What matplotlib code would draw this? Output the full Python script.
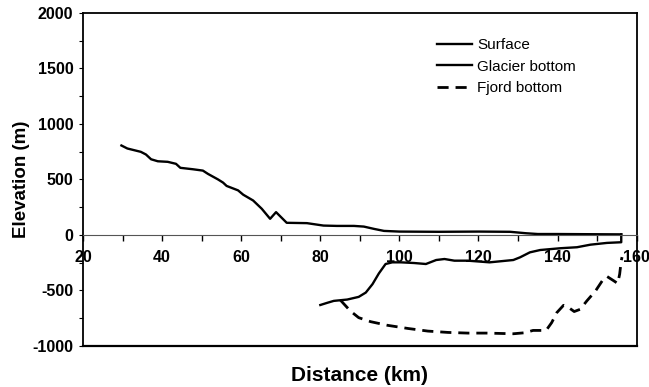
import matplotlib
matplotlib.use('Agg')
import matplotlib.pyplot as plt
from matplotlib.ticker import MultipleLocator

plt.rcParams['font.family'] = ['Liberation Sans', 'DejaVu Sans']
plt.rcParams['axes.unicode_minus'] = False

# glacier surface (km, m)
surf_x = [29.7, 31.2, 34.6, 35.9, 37.2, 38.9, 41.4, 43.5, 44.6, 47.8, 50.3, 51.6,
          54.1, 55.4, 56.3, 59.2, 60.5, 63.0, 65.2, 67.3, 68.8, 71.5, 76.6, 80.8,
          84.2, 88.5, 91.0, 93.6, 96.1, 100, 110, 120, 128, 132, 135, 140, 150, 156.1]
surf_y = [805, 778, 748, 724, 681, 663, 658, 640, 604, 591, 579, 549,
          500, 471, 441, 401, 362, 310, 235, 145, 205, 109, 106, 84,
          81, 81, 75, 54, 36, 30, 28, 30, 28, 15, 8, 8, 6, 5]

# glacier bottom, closed by the calving front at the end
bed_x = [80.0, 81.7, 83.4, 85.1, 86.8, 89.7, 91.5, 93.2, 94.8, 96.5, 98.2, 100.4,
         103.7, 106.7, 109.3, 111.4, 113.9, 117.3, 122.8, 128.8, 130.5, 133.0,
         135.6, 140.7, 144.9, 148.3, 152.5, 156.1, 156.1]
bed_y = [-631, -612, -594, -588, -582, -558, -519, -443, -347, -262, -247, -247,
         -253, -262, -226, -217, -232, -232, -247, -226, -202, -157,
         -136, -120, -111, -88, -72, -66, 5]

# fjord bottom
fjord_x = [85.1, 87.6, 89.7, 92.7, 97.0, 102.1, 107.2, 112.3, 117.3, 122.0, 128.8,
           131.7, 133.8, 137.1, 138.5, 139.8, 141.5, 142.8, 144.2, 145.7, 147.4,
           149.6, 151.3, 152.5, 154.2, 155.2, 155.7, 156.1, 156.3]
fjord_y = [-588, -685, -745, -781, -814, -842, -866, -878, -884, -884, -890,
           -881, -860, -860, -790, -700, -634, -654, -690, -670, -594,
           -504, -413, -374, -413, -437, -353, -232, -200]

fig = plt.figure(figsize=(6.49, 3.87), dpi=100)
ax = fig.add_axes([0.128, 0.106, 0.853, 0.861])

ax.plot(surf_x, surf_y, color='black', lw=1.7, label='Surface')
ax.plot(bed_x, bed_y, color='black', lw=1.7, label='Glacier bottom')
ax.plot(fjord_x, fjord_y, color='black', lw=2.0, ls=(0, (4, 2.5)), label='Fjord bottom')

ax.set_xlim(20, 160)
ax.set_ylim(-1000, 2000)

# x axis drawn at y = 0, box closed at the bottom with a separate line
ax.spines['bottom'].set_position(('data', 0))
ax.spines['bottom'].set_linewidth(0.8)
ax.spines['bottom'].set_color('#555555')
for s in ['left', 'top', 'right']:
    ax.spines[s].set_linewidth(1.3)
ax.plot([0, 1], [0, 0], transform=ax.transAxes, color='black', lw=1.6, clip_on=False)

ax.xaxis.set_major_locator(MultipleLocator(20))
ax.xaxis.set_minor_locator(MultipleLocator(10))
ax.yaxis.set_major_locator(MultipleLocator(500))
ax.yaxis.set_minor_locator(MultipleLocator(250))
ax.tick_params(axis='x', which='both', direction='out', length=4, width=1, pad=7,
               labelsize=11.5)
ax.tick_params(axis='y', which='both', direction='out', length=3, width=0.8, pad=4,
               labelsize=11.5)
for lab in ax.get_xticklabels() + ax.get_yticklabels():
    lab.set_fontweight('bold')

ax.set_xlabel('Distance (km)', fontsize=15, fontweight='bold', labelpad=0)
ax.xaxis.set_label_coords(0.5, -0.06)
ax.set_ylabel('Elevation (m)', fontsize=13.5, fontweight='bold')
ax.yaxis.set_label_coords(-0.095, 0.5)

ax.legend(loc='upper left', bbox_to_anchor=(0.615, 0.965), frameon=False, fontsize=11,
          handlelength=2.3, handletextpad=0.3, labelspacing=0.5)

fig.savefig('out.png', dpi=100)
